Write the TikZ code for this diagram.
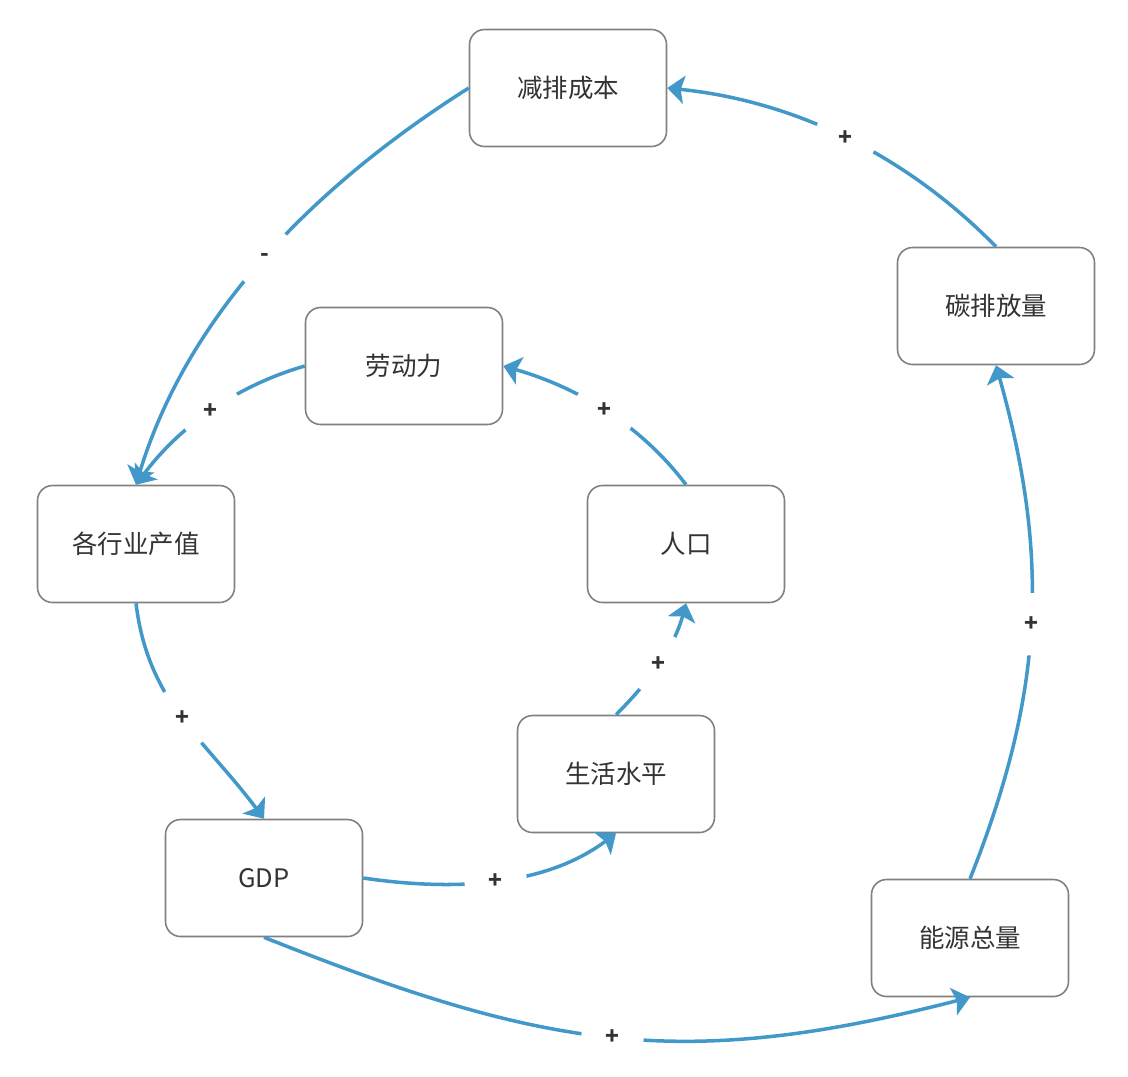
\documentclass[tikz,border=0pt]{standalone}
\usepackage{fontspec}
\setmainfont{Noto Sans CJK SC}
\usetikzlibrary{arrows.meta}
\definecolor{linkblue}{RGB}{67,152,202}
\definecolor{boxgray}{RGB}{128,128,128}
\definecolor{txtgray}{RGB}{51,51,51}

\begin{document}
\begin{tikzpicture}[x=0.02cm,y=0.02cm,
  box/.style={draw=boxgray, line width=0.9pt, rounded corners=0.3cm, fill=white,
    minimum width=3.94cm, minimum height=2.34cm, text=txtgray,
    font=\fontsize{14.5}{17}\selectfont},
  link/.style={draw=linkblue, line width=2pt,
    -{Stealth[length=0.34cm,width=0.56cm,inset=0.07cm]}},
  sign/.style={circle, fill=white, minimum size=1.25cm, inner sep=0pt,
    text=txtgray, font=\fontsize{13}{15}\selectfont\bfseries}]
  \useasboundingbox (0,0) rectangle (1128,-1076);
  % Boxes
  \node[box] (jp)  at (568,-88)  {减排成本};
  \node[box] (tp)  at (996,-306) {碳排放量};
  \node[box] (ldl) at (404,-366) {劳动力};
  \node[box] (hy)  at (136,-544) {各行业产值};
  \node[box] (rk)  at (686,-544) {人口};
  \node[box] (sh)  at (616,-774) {生活水平};
  \node[box] (gdp) at (264,-878) {GDP};
  \node[box] (ny)  at (970,-938) {能源总量};
  % Outer loop
  \draw[link] (jp.west) .. controls +(-152,-96) and +(52,172) .. (hy.north)
    node[sign, pos=0.5] {-};
  \draw[link] (tp.north) .. controls +(-90,92) and +(127,-13) .. (jp.east)
    node[sign, pos=0.5] {+};
  \draw[link] (ny.north) .. controls +(74,186) and +(54,-192) .. (tp.south)
    node[sign, pos=0.5] {+};
  \draw[link] (gdp.south) .. controls +(279,-111) and +(-291,-75) .. (ny.south)
    node[sign, pos=0.5] {+};
  \draw[link] (hy.south) .. controls +(12,-99) and +(-60,80) .. (gdp.north)
    node[sign, pos=0.5] {+};
  % Inner loop
  \draw[link] (gdp.east) .. controls +(88,-13) and +(-72,-54) .. (sh.south)
    node[sign, pos=0.5] {+};
  \draw[link] (sh.north) .. controls +(32,32) and +(-12,-45) .. (rk.south)
    node[sign, pos=0.5] {+};
  \draw[link] (rk.north) .. controls +(-46,61) and +(73,-21) .. (ldl.east)
    node[sign, pos=0.5] {+};
  \draw[link] (ldl.west) .. controls +(-69,-20) and +(43,58) .. (hy.north)
    node[sign, pos=0.5] {+};
\end{tikzpicture}
\end{document}
